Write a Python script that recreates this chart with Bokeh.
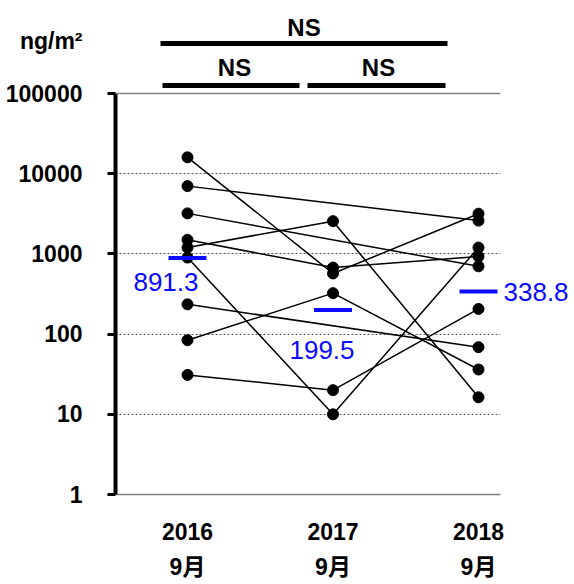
from bokeh.plotting import figure
from bokeh.models import (Range1d, FixedTicker, BasicTickFormatter, Span, Label, LogAxis)
from bokeh.embed import file_html
from bokeh.resources import INLINE

# ---- data ----
years = ["2016", "2017", "2018"]
months = ["9月", "9月", "9月"]
sep2016 = [16000, 7000, 3200, 1500, 1200, 900, 235, 84, 31]
sep2017 = [570, None, None, 675, 2560, 10, None, 324, 20]
sep2018 = [3170, 2600, 700, 930, 16.3, 1200, 68.7, 36.2, 206]
geo_mean = [891.3, 199.5, 338.8]
mean_labels = ["891.3", "199.5", "338.8"]
y_ticks = [1, 10, 100, 1000, 10000, 100000]
grid_ticks = [10, 100, 1000, 10000]
sig_text = ["NS", "NS", "NS"]
unit_text = "ng/m²"

FONT = "'Liberation Sans', 'Noto Sans CJK JP', sans-serif"
BLUE = "#0a0aff"

# pixel geometry helpers (layout only)
PX_PER_DEC = 80.2
X_STEP = 145.5

def ylog_from_px_above_top(px):
    return 10 ** (5 + px / PX_PER_DEC)

p = figure(width=574, height=584, y_axis_type="log", output_backend="svg",
           toolbar_location=None, min_border_left=115, min_border_right=74,
           min_border_top=0, min_border_bottom=90,
           x_range=Range1d(-72 / X_STEP, 2 + 22 / X_STEP),
           y_range=Range1d(1, 10 ** (5 + 93 / PX_PER_DEC)))
p.outline_line_color = None
p.background_fill_color = "white"
p.border_fill_color = "white"

# y axis
p.yaxis.ticker = FixedTicker(ticks=y_ticks)
p.yaxis.bounds = (1, 100000)
p.yaxis.formatter = BasicTickFormatter(use_scientific=False)
p.yaxis.major_label_overrides = {y_ticks[-1]: f"{unit_text}\n{y_ticks[-1]}\n "}
p.yaxis.major_label_text_line_height = 2.03
p.yaxis.axis_line_width = 4
p.yaxis.axis_line_color = "black"
p.yaxis.major_tick_out = 8
p.yaxis.major_tick_in = 0
p.yaxis.major_tick_line_width = 3
p.yaxis.minor_tick_line_color = None
p.yaxis.major_label_standoff = 25
p.yaxis.major_label_text_font = FONT
p.yaxis.major_label_text_font_size = "23px"
p.yaxis.major_label_text_color = "black"
p.yaxis.major_label_text_font_style = "bold"

# right axis carrying the 2018 mean label
raxis = LogAxis(ticker=FixedTicker(ticks=[geo_mean[2]]),
                major_label_overrides={geo_mean[2]: mean_labels[2]},
                axis_line_color=None, major_tick_line_color=None, minor_tick_line_color=None,
                major_tick_out=0, major_tick_in=0, major_label_standoff=3,
                major_label_text_font=FONT, major_label_text_font_size="26px",
                major_label_text_color=BLUE)
p.add_layout(raxis, "right")

# x axis
p.xaxis.ticker = FixedTicker(ticks=[0, 1, 2])
p.xaxis.major_label_overrides = {i: f"{years[i]}\n{months[i]}" for i in range(3)}
p.xaxis.axis_line_color = "#808080"
p.xaxis.axis_line_width = 1.5
p.xaxis.major_tick_line_color = None
p.xaxis.minor_tick_line_color = None
p.xaxis.major_tick_out = 0
p.xaxis.major_tick_in = 0
p.xaxis.major_label_standoff = 24
p.xaxis.major_label_text_font = FONT
p.xaxis.major_label_text_font_size = "23px"
p.xaxis.major_label_text_line_height = 1.35
p.xaxis.major_label_text_font_style = "bold"
p.xaxis.major_label_text_color = "black"

# grid
p.xgrid.visible = False
p.ygrid.ticker = FixedTicker(ticks=grid_ticks)
p.ygrid.grid_line_color = "#555555"
p.ygrid.grid_line_dash = "2 2"
p.ygrid.grid_line_width = 1
p.add_layout(Span(location=100000, dimension="width", line_color="#808080", line_width=1.5))

# subject lines
series = [sep2016, sep2017, sep2018]
xs, ys = [], []
for i in range(len(sep2016)):
    xx, yy = [], []
    for j, s in enumerate(series):
        if s[i] is not None:
            xx.append(j)
            yy.append(s[i])
    xs.append(xx)
    ys.append(yy)
p.multi_line(xs=xs, ys=ys, line_color="black", line_width=1.5)

for j, s in enumerate(series):
    vals = [v for v in s if v is not None]
    p.scatter(x=[j] * len(vals), y=vals, size=11, color="black")

# geometric mean markers
p.scatter(x=[0, 1, 2], y=geo_mean, marker="dash", size=38, line_width=4,
          line_color=BLUE)

offsets = [(11, -24, "right"), (-11, -40, "center")]
for j in range(2):
    dx, dy, al = offsets[j]
    p.add_layout(Label(x=j, y=geo_mean[j], text=mean_labels[j], x_offset=dx, y_offset=dy,
                       text_align=al, text_baseline="middle", text_color=BLUE,
                       text_font=FONT, text_font_size="26px"))

# significance bars (annotation layout)
top_y = ylog_from_px_above_top(50)
low_y = ylog_from_px_above_top(8)
p.segment(x0=[-27 / X_STEP], x1=[260 / X_STEP], y0=[top_y], y1=[top_y], line_color="black", line_width=5)
p.segment(x0=[-25 / X_STEP, 120 / X_STEP], x1=[112 / X_STEP, 258 / X_STEP], y0=[low_y, low_y], y1=[low_y, low_y],
          line_color="black", line_width=5)
ns_pos = [(116.5 / X_STEP, ylog_from_px_above_top(66)),
          (47 / X_STEP, ylog_from_px_above_top(26)),
          (191 / X_STEP, ylog_from_px_above_top(26))]
for k, (nx, ny) in enumerate(ns_pos):
    p.add_layout(Label(x=nx, y=ny, text=sig_text[k], text_align="center", text_baseline="middle",
                       text_font=FONT, text_font_size="24px", text_font_style="bold",
                       text_color="black"))

open("out.html", "w").write(file_html(p, INLINE))
